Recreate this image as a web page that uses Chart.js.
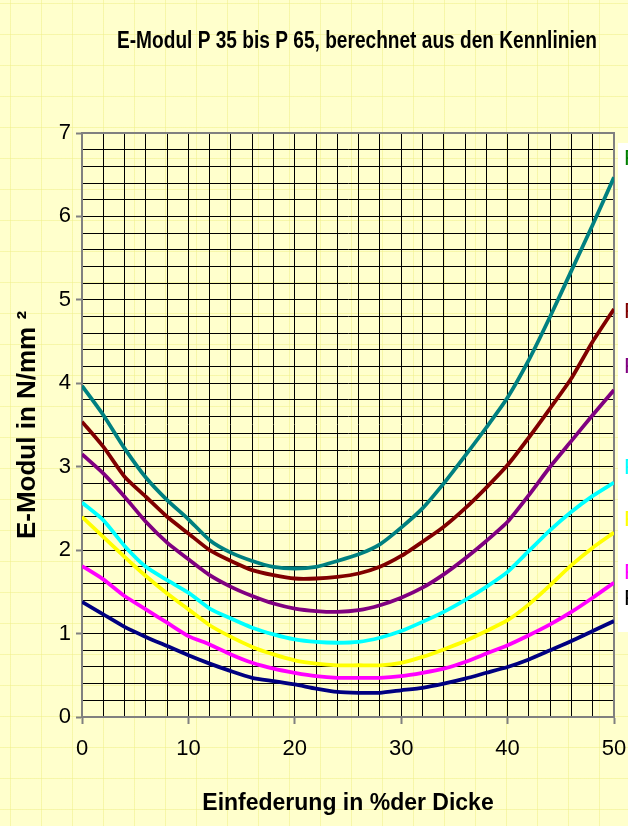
<!DOCTYPE html>
<html><head><meta charset="utf-8">
<script src="https://cdn.jsdelivr.net/npm/chart.js@4.4.0/dist/chart.umd.min.js"></script>
<style>
html,body{margin:0;padding:0;width:628px;height:826px;overflow:hidden;
background-color:#FFFFCC;
background-image:linear-gradient(to right, rgba(240,240,140,0.55) 1px, transparent 1px),linear-gradient(to bottom, rgba(240,240,140,0.55) 1px, transparent 1px);
background-size:31px 31px;background-position:10px 3px;}
#wrap{position:relative;width:628px;height:826px;}
</style></head><body><div id="wrap"><canvas id="c" width="628" height="826"></canvas></div>
<script>
const xValues = [0,2,4,6,8,10,12,14,16,18,20,22,24,26,28,30,32,34,36,38,40,42,44,46,48,50];
const p65 = [3.97,3.62,3.22,2.87,2.60,2.37,2.12,1.97,1.87,1.80,1.78,1.80,1.87,1.95,2.07,2.27,2.50,2.80,3.13,3.47,3.83,4.28,4.80,5.35,5.90,6.47];
const p60 = [3.54,3.24,2.88,2.64,2.40,2.20,2.00,1.87,1.76,1.70,1.66,1.66,1.68,1.72,1.80,1.93,2.10,2.28,2.50,2.75,3.02,3.35,3.70,4.06,4.50,4.89];
const p55 = [3.15,2.92,2.64,2.34,2.09,1.89,1.70,1.56,1.45,1.36,1.30,1.27,1.26,1.28,1.34,1.43,1.55,1.71,1.90,2.11,2.34,2.66,3.00,3.31,3.62,3.92];
const p50 = [2.57,2.36,2.05,1.80,1.64,1.49,1.30,1.18,1.07,0.99,0.93,0.90,0.89,0.90,0.95,1.03,1.14,1.26,1.40,1.56,1.74,1.99,2.24,2.46,2.65,2.81];
const p45 = [2.40,2.16,1.92,1.69,1.48,1.29,1.10,0.96,0.84,0.75,0.68,0.64,0.62,0.62,0.62,0.65,0.72,0.81,0.91,1.03,1.16,1.35,1.58,1.82,2.03,2.21];
const p40 = [1.81,1.65,1.45,1.29,1.13,0.97,0.87,0.75,0.65,0.58,0.53,0.49,0.47,0.47,0.47,0.49,0.53,0.58,0.66,0.76,0.86,0.98,1.11,1.26,1.43,1.61];
const p35 = [1.38,1.23,1.08,0.96,0.85,0.74,0.64,0.55,0.47,0.43,0.39,0.34,0.30,0.29,0.29,0.32,0.35,0.40,0.46,0.53,0.60,0.69,0.80,0.91,1.03,1.15];
const seriesNames = ['P 65','P 60','P 55','P 50','P 45','P 40','P 35'];
const seriesData = [p65,p60,p55,p50,p45,p40,p35];
const lineColors = ['#008080','#800000','#800080','#00FFFF','#FFFF00','#FF00FF','#000080'];
const labelColors = ['#008000','#800000','#800080','#00FFFF','#FFFF00','#FF00FF','#000000'];
const labelY = [159,312,367,468,520,573,599];
const yTickLabels = [0,1,2,3,4,5,6,7];
const xTickLabels = [0,10,20,30,40,50];
const titleText = 'E-Modul P 35 bis P 65, berechnet aus den Kennlinien';
const xTitle = 'Einfederung in %der Dicke';
const yTitle = 'E-Modul in N/mm \u00B2';

const FONT = '"Liberation Sans", Arial, sans-serif';
const isInt = (v, list) => list.some(t => Math.abs(v - t) < 1e-6);

const decor = {
  id: 'decor',
  beforeDatasetsDraw(chart) {
    const {ctx, chartArea: a} = chart;
    ctx.save();
    ctx.strokeStyle = '#808080';
    ctx.lineWidth = 2;
    ctx.strokeRect(a.left, a.top, a.right - a.left, a.bottom - a.top);
    ctx.restore();
  },
  afterDraw(chart) {
    const {ctx} = chart;
    ctx.save();
    ctx.font = 'bold 23px ' + FONT;
    const w = ctx.measureText(titleText).width;
    ctx.translate(357, 42);
    ctx.scale(480 / w, 1);
    ctx.fillStyle = '#000';
    ctx.textAlign = 'center';
    ctx.textBaseline = 'middle';
    ctx.fillText(titleText, 0, 0);
    ctx.restore();
    ctx.save();
    ctx.fillStyle = '#FFFFFF';
    ctx.fillRect(618, 143, 12, 489);
    ctx.font = '22px ' + FONT;
    ctx.textAlign = 'left';
    ctx.textBaseline = 'middle';
    seriesNames.forEach((n, i) => {
      ctx.fillStyle = labelColors[i];
      ctx.fillText(n, 624, labelY[i]);
    });
    ctx.restore();
  }
};

new Chart(document.getElementById('c'), {
  type: 'line',
  data: {
    datasets: seriesNames.map((n, i) => ({
      label: n,
      data: xValues.map((x, j) => ({x: x, y: seriesData[i][j]})),
      borderColor: lineColors[i],
      borderWidth: 3.8,
      pointRadius: 0,
      tension: 0.2,
      fill: false
    }))
  },
  options: {
    responsive: false,
    animation: false,
    devicePixelRatio: 1,
    layout: {padding: {top: 133, right: 14, bottom: 0, left: 0}},
    plugins: {legend: {display: false}, title: {display: false}, tooltip: {enabled: false}},
    scales: {
      x: {
        type: 'linear', min: 0, max: 50,
        afterFit(s) { s.height = 109; s.paddingRight = 0; s.paddingLeft = 0; },
        ticks: {
          stepSize: 2, autoSkip: false, maxRotation: 0, padding: 12,
          color: '#000', font: {family: FONT, size: 22},
          callback: v => isInt(v, xTickLabels) ? String(Math.round(v)) : ''
        },
        grid: {
          color: '#000', lineWidth: 1, tickLength: 7,
          tickColor: c => isInt(c.tick.value, xTickLabels) ? '#808080' : 'rgba(0,0,0,0)',
          tickWidth: 2
        },
        border: {color: '#808080', width: 2},
        title: {display: true, text: xTitle, color: '#000', font: {family: FONT, size: 23, weight: 'bold'}, padding: {top: 0, bottom: 9}}
      },
      y: {
        type: 'linear', min: 0, max: 7,
        afterFit(s) { s.width = 82; },
        ticks: {
          stepSize: 0.2, autoSkip: false, maxTicksLimit: 100, padding: 5,
          color: '#000', font: {family: FONT, size: 22},
          callback: v => isInt(v, yTickLabels) ? String(Math.round(v)) : ''
        },
        grid: {
          color: '#000', lineWidth: 1, tickLength: 6,
          tickColor: c => isInt(c.tick.value, yTickLabels) ? '#808080' : 'rgba(0,0,0,0)',
          tickWidth: 2
        },
        border: {color: '#808080', width: 2},
        title: {display: true, text: yTitle, color: '#000', font: {family: FONT, size: 26, weight: 'bold'}, padding: {top: 12, bottom: 0}}
      }
    }
  },
  plugins: [decor]
});
</script></body></html>
